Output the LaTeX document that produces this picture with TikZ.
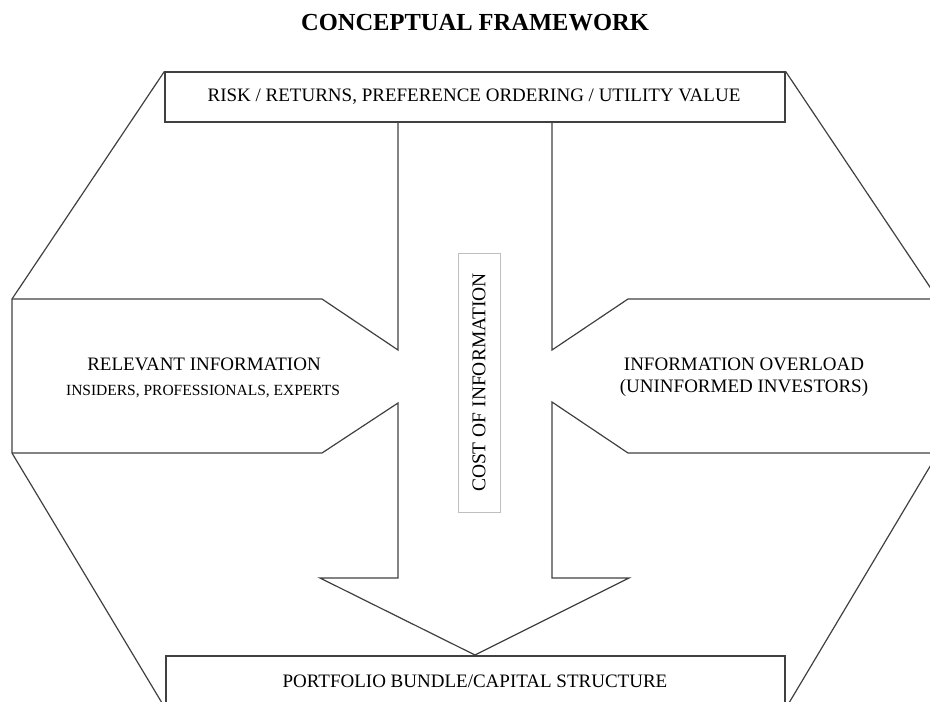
\documentclass[tikz,border=0pt]{standalone}
\usepackage{fontspec}
\setmainfont{Liberation Serif}
\usetikzlibrary{positioning}

\tikzset{
  frame/.style={draw=black!75, line width=1.2pt, line join=miter},
  box/.style={frame, fill=white, inner sep=0pt},
  lbl/.style={font=\fontsize{19}{22}\selectfont, align=center, inner sep=0pt},
}

\begin{document}
\begin{tikzpicture}[x=1pt, y=-1pt]
  \useasboundingbox (0,0) rectangle (930,702);
  \clip (0,0) rectangle (930,702);

  % title
  \node[font=\fontsize{24.5}{28}\selectfont\bfseries, inner sep=0pt] (title) at (475,23) {CONCEPTUAL FRAMEWORK};

  % top and bottom boxes
  \node[box, minimum width=620pt, minimum height=50pt] (risk) at (475,97) {};
  \node[lbl] at (474,97) {RISK / RETURNS, PREFERENCE ORDERING / UTILITY VALUE};
  \node[box, minimum width=619pt, minimum height=52pt] (portfolio) at (475.5,682) {};
  \node[lbl] at (475,681) {PORTFOLIO BUNDLE/CAPITAL STRUCTURE};

  % outer hexagon sides
  \coordinate (lt) at (12,299);
  \coordinate (lb) at (12,453);
  \coordinate (rt) at (938,299);
  \coordinate (rb) at (938,453);
  \draw[frame] (risk.north west) -- (lt) -- (lb) -- (portfolio.south west);
  \draw[frame] (risk.north east) -- (rt) -- (rb) -- (portfolio.south east);

  % arrows
  \draw[frame] (398,122) -- (398,350) -- (322,299) -- (lt);
  \draw[frame] (lb) -- (322,453) -- (398,403) -- (398,578) -- (320,578)
    -- (475,655) -- (629,578) -- (552,578) -- (552,402) -- (628,453) -- (rb);
  \draw[frame] (rt) -- (628,299) -- (552,350) -- (552,122);

  % side texts
  \node[lbl] (relevant) at (204,364) {RELEVANT INFORMATION};
  \node[lbl, font=\fontsize{15.5}{18}\selectfont] (experts) at (203,392) {INSIDERS, PROFESSIONALS, EXPERTS};
  \node[lbl] (overload) at (744,377) {INFORMATION OVERLOAD\\(UNINFORMED INVESTORS)};

  % cost box
  \node[draw=black!25, line width=0.8pt, rotate=90, minimum width=259pt, minimum height=42pt,
        font=\fontsize{19.5}{22}\selectfont, inner sep=0pt] (cost) at (479,382.5) {COST OF INFORMATION};
\end{tikzpicture}
\end{document}
